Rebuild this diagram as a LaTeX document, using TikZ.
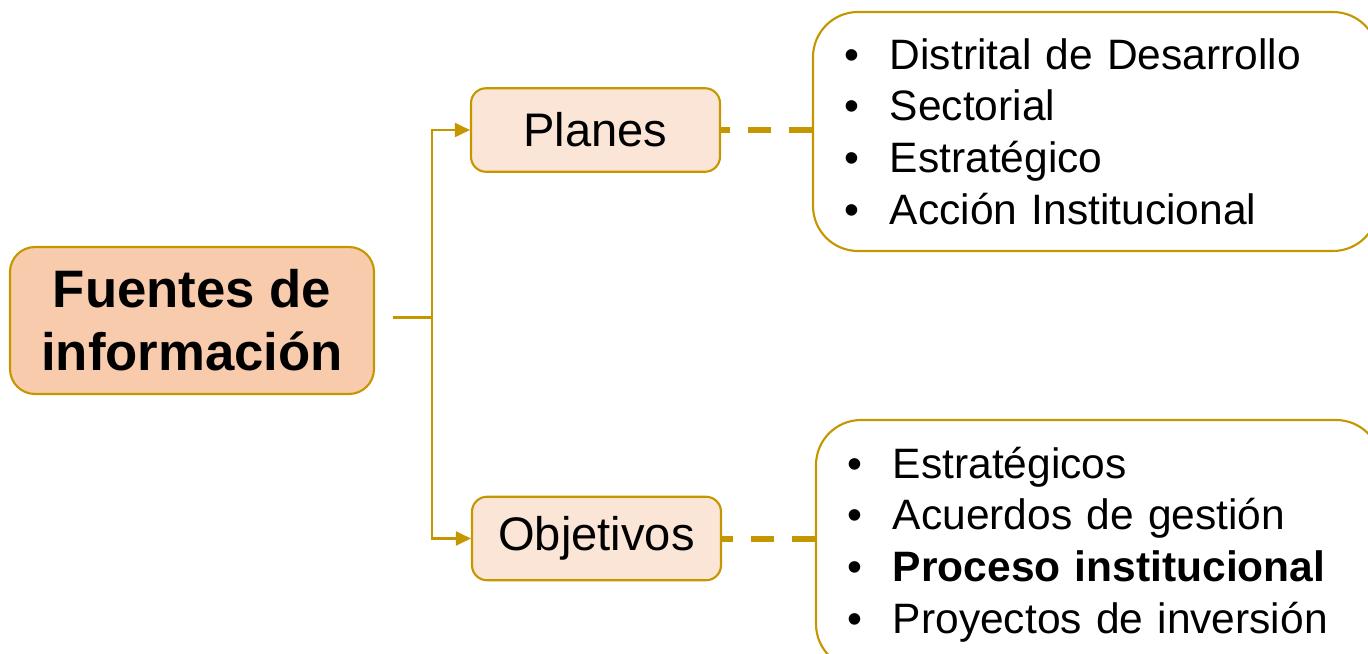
\documentclass[tikz,border=0pt]{standalone}
\usepackage{fontspec}
\setmainfont{Liberation Sans}
\usepackage{xcolor}
\usepackage{tikz}
\usetikzlibrary{arrows.meta}
\definecolor{fgold}{RGB}{196,150,0}
\definecolor{fpeach}{RGB}{248,203,173}
\definecolor{flight}{RGB}{251,229,214}
\newcommand{\itm}{\textbullet\hspace{0.62cm}}

\begin{document}
\begin{tikzpicture}[
      mainbox/.style={draw=fgold, fill=fpeach, line width=1.2pt, rounded corners=0.5cm,
                  minimum width=7.28cm, minimum height=2.94cm, align=center,
                  font=\fontsize{30}{36}\selectfont\bfseries},
      sub/.style={draw=fgold, fill=flight, line width=1.2pt, rounded corners=0.3cm,
                  minimum width=4.98cm, minimum height=1.67cm,
                  font=\fontsize{26.8}{32}\selectfont},
      list/.style={draw=fgold, fill=white, line width=1.2pt, rounded corners=0.9cm,
                  text width=10.06cm, inner xsep=0.62cm, align=left,
                  font=\fontsize{24.2}{29.4}\selectfont},
      conn/.style={fgold, line width=1.2pt},
      arr/.style={-{Triangle[length=0.3cm, width=0.28cm]}, fgold, line width=1.2pt},
      dashline/.style={fgold, line width=0.12cm, dash pattern=on 0.46cm off 0.36cm}
    ]
    \useasboundingbox (0,0) rectangle (27.36,-13.08);

    \node[mainbox] (fuentes) at (3.84,-6.41) {Fuentes de\\informaci\'on};
    \node[sub] (planes)    at (11.91,-2.6)  {Planes};
    \node[sub] (objetivos) at (11.93,-10.77) {Objetivos};

    \node[list, minimum height=4.78cm] (plist) at (21.91,-2.63)
      {\itm Distrital de Desarrollo\\ \itm Sectorial\\ \itm Estrat\'egico\\ \itm Acci\'on Institucional};
    \node[list, minimum height=4.98cm] (olist) at (21.97,-10.89)
      {\itm Estrat\'egicos\\ \itm Acuerdos de gesti\'on\\ \itm \textbf{Proceso institucional}\\ \itm Proyectos de inversi\'on};

    \coordinate (fork) at (8.64,-6.35);
    \draw[conn] (fuentes.east |- fork) ++(0.36,0) -- (fork);
    \draw[arr] (fork) |- (planes.west);
    \draw[arr] (fork) |- (objetivos.west);

    \draw[dashline] (plist.west |- planes.east) -- (planes.east);
    \draw[dashline] (olist.west |- objetivos.east) -- (objetivos.east);
  \end{tikzpicture}
\end{document}
